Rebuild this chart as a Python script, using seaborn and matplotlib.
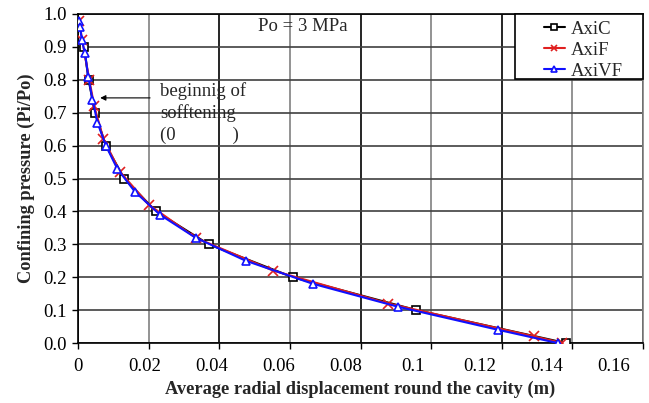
import numpy as np
import pandas as pd
import matplotlib
matplotlib.use("Agg")
import matplotlib.pyplot as plt
import matplotlib.transforms as mtransforms
from matplotlib.patches import Rectangle
import seaborn as sns

# Data
axic_x = [0.0017, 0.0030, 0.0048, 0.0079, 0.0131, 0.0221, 0.0370, 0.0608, 0.0958, 0.1381]
axic_y = [0.90, 0.80, 0.70, 0.60, 0.50, 0.40, 0.30, 0.20, 0.10, 0.00]

axif_x = [0.0003, 0.0012, 0.0032, 0.0046, 0.0072, 0.0119, 0.0201, 0.0333, 0.0553, 0.0879, 0.1292, 0.1372]
axif_y = [0.98, 0.92, 0.80, 0.72, 0.62, 0.52, 0.42, 0.32, 0.22, 0.12, 0.02, 0.00]

axivf_x = [0.0003, 0.0006, 0.0011, 0.0020, 0.0029, 0.0041, 0.0055, 0.0079, 0.0111, 0.0161,
           0.0232, 0.0333, 0.0475, 0.0665, 0.0907, 0.1190, 0.1358]
axivf_y = [0.98, 0.96, 0.92, 0.88, 0.81, 0.74, 0.67, 0.60, 0.53, 0.46,
           0.39, 0.32, 0.25, 0.18, 0.11, 0.04, 0.00]

x_ticks = [0, 0.02, 0.04, 0.06, 0.08, 0.1, 0.12, 0.14, 0.16]
x_tick_labels = ["0", "0.02", "0.04", "0.06", "0.08", "0.1", "0.12", "0.14", "0.16"]
y_ticks = [0.0, 0.1, 0.2, 0.3, 0.4, 0.5, 0.6, 0.7, 0.8, 0.9, 1.0]

FS = 13.5

sns.set_theme(style="white")
plt.rcParams['font.family'] = ['Liberation Serif', 'DejaVu Serif']
plt.rcParams['mathtext.fontset'] = 'stix'

fig = plt.figure(figsize=(6.49, 4.03), dpi=100)
ax = fig.add_axes([78/649, 1 - 343/403, (643 - 78)/649, (343 - 14)/403])

df_c = pd.DataFrame({"x": axic_x, "y": axic_y})
df_f = pd.DataFrame({"x": axif_x, "y": axif_y})
df_v = pd.DataFrame({"x": axivf_x, "y": axivf_y})

sns.lineplot(data=df_c, x="x", y="y", ax=ax, sort=False, estimator=None, color="black",
             linewidth=1.5, marker="s", markersize=6, markerfacecolor="white",
             markeredgecolor="black", markeredgewidth=1.2, label="AxiC", zorder=3)
sns.lineplot(data=df_f, x="x", y="y", ax=ax, sort=False, estimator=None, color="#e02020",
             linewidth=1.5, marker="x", markersize=7, markeredgecolor="#e02020",
             markeredgewidth=1.2, label="AxiF", zorder=4)
sns.lineplot(data=df_v, x="x", y="y", ax=ax, sort=False, estimator=None, color="#1010ff",
             linewidth=1.5, marker="^", markersize=6, markerfacecolor="white",
             markeredgecolor="#1010ff", markeredgewidth=1.2, label="AxiVF", zorder=5)

ax.set_xlim(0, 0.16)
ax.set_ylim(0, 1.0)
ax.set_xticks(x_ticks)
ax.set_xticklabels(x_tick_labels)
ax.set_yticks(y_ticks)
ax.set_yticklabels([f"{v:.1f}" for v in y_ticks])
ax.tick_params(axis="both", labelsize=FS, direction="out", length=4, width=1,
               colors="black", bottom=True, left=True, pad=4)
ax.tick_params(axis="x", pad=7)

# the reference's x tick labels are slightly compressed toward the left
for i, lab in enumerate(ax.get_xticklabels()):
    off = mtransforms.ScaledTranslation(-3.7 * i / 100.0, 0, fig.dpi_scale_trans)
    lab.set_transform(lab.get_transform() + off)

ax.grid(True, which="major")
for i, gl in enumerate(ax.get_xgridlines()):
    gl.set_color("black" if i % 2 == 0 else "#808080")
    gl.set_linewidth(1.2)
for gl in ax.get_ygridlines():
    gl.set_color("#404040")
    gl.set_linewidth(1.2)
ax.set_axisbelow(True)

for s in ["left", "bottom", "top"]:
    ax.spines[s].set_color("black")
    ax.spines[s].set_linewidth(1.2)
ax.spines["right"].set_color("#808080")
ax.spines["right"].set_linewidth(1.2)

ax.set_xlabel("Average radial displacement round the cavity (m)", fontsize=13.2,
              fontweight="bold", labelpad=4)
ax.set_ylabel("Confining pressure (Pi/Po)", fontsize=13.2, fontweight="bold", labelpad=6)

ax.text(0.0637, 0.963, "Po = 3 MPa", fontsize=FS, ha="center", va="center", zorder=6)

ax.annotate("", xy=(0.0055, 0.745), xytext=(0.0212, 0.745),
            arrowprops=dict(arrowstyle="-|>", color="black", lw=0.8,
                            mutation_scale=8), zorder=6)
ax.text(0.0232, 0.699, "beginnig of\nsofftening\n(0            )", fontsize=FS,
        ha="left", va="center", linespacing=1.33, zorder=6)

leg = ax.legend(loc="upper left", bbox_to_anchor=((543 - 78) / 565 - 0.01, 1.0), borderaxespad=0,
                fontsize=FS, frameon=False,
                handlelength=1.1, handletextpad=0.3, labelspacing=0.2,
                borderpad=0.36, markerscale=0.7)
leg.set_zorder(10)
frame = Rectangle(((515 - 78) / 565, 1 - (79 - 14) / 329), (643 - 515) / 565, (79 - 14) / 329,
                  transform=ax.transAxes, facecolor="white", edgecolor="black",
                  linewidth=1.2, zorder=9, clip_on=False)
ax.add_patch(frame)

fig.savefig("out.png", dpi=100)
